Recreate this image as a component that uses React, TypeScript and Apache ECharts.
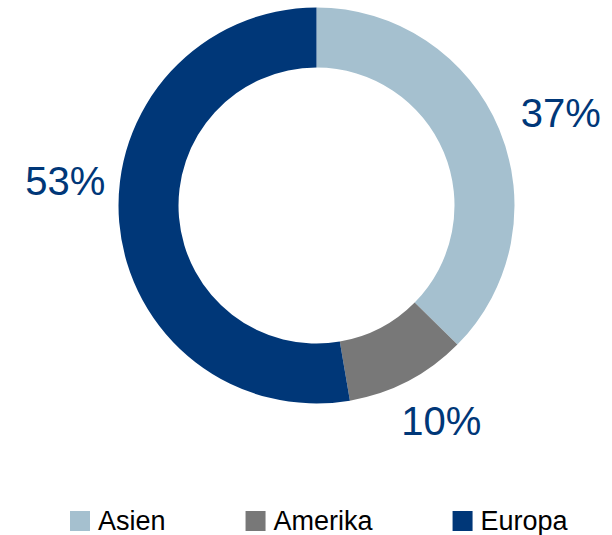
import React, { useEffect, useRef } from "react";
import * as echarts from "echarts";

const categories = ["Asien", "Amerika", "Europa"];
const values = [37.4, 9.9, 52.7];
const colors = ["#A5C0CF", "#787878", "#003778"];

const FONT = "'Liberation Sans', Arial, Helvetica, sans-serif";

export default function App() {
  const ref = useRef<HTMLDivElement>(null);

  useEffect(() => {
    if (!ref.current) return;
    const chart = echarts.init(ref.current, null, { renderer: "svg" });
    const labelShift: Record<number, [number, number]> = {
      0: [3, -8],
      1: [-16, 22],
      2: [6, -43],
    };
    chart.setOption({
      animation: false,
      backgroundColor: "#ffffff",
      color: colors,
      legend: {
        data: categories,
        left: 70,
        top: 507,
        padding: 0,
        orient: "horizontal",
        icon: "rect",
        itemWidth: 20,
        itemHeight: 20,
        itemGap: 80,
        textStyle: {
          fontFamily: FONT,
          fontSize: 27,
          color: "#000000",
          lineHeight: 28,
          padding: [0, 0, 0, 3],
        },
      },
      series: [
        {
          type: "pie",
          center: [316.5, 205.5],
          radius: [138, 198],
          startAngle: 90,
          clockwise: true,
          avoidLabelOverlap: false,
          itemStyle: { borderWidth: 0 },
          emphasis: { disabled: true },
          label: {
            show: true,
            position: "outside",
            formatter: (p: any) => `${Math.round(p.value)}%`,
            fontFamily: FONT,
            fontSize: 40,
            color: "#003778",
            distanceToLabelLine: 0,
          },
          labelLine: { show: false, length: 20, length2: 0 },
          labelLayout: (p: any) => {
            const s = labelShift[p.dataIndex] || [0, 0];
            return { dx: s[0], dy: s[1] };
          },
          data: categories.map((name, i) => ({
            name,
            value: values[i],
            itemStyle: { color: colors[i] },
          })),
        },
      ],
    });
    return () => chart.dispose();
  }, []);

  return (
    <div
      ref={ref}
      style={{ position: "fixed", left: 0, top: 0, width: 612, height: 535 }}
    />
  );
}
